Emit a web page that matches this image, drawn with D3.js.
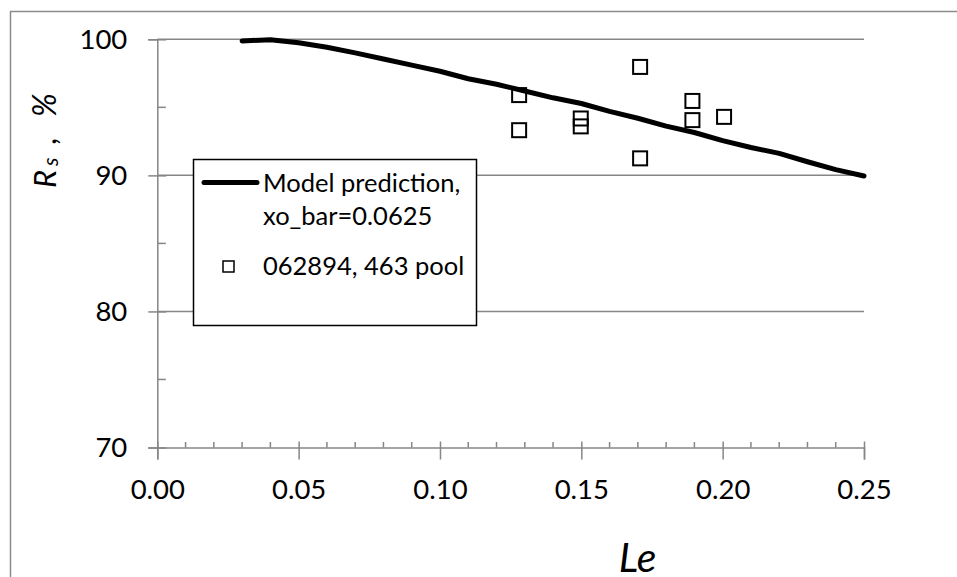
<!DOCTYPE html>
<html>
<head>
<meta charset="utf-8">
<script src="https://cdn.jsdelivr.net/npm/d3@7/dist/d3.min.js"></script>
<style>
  html, body { margin: 0; padding: 0; background: #fff; }
  svg { display: block; font-family: Lato, "Open Sans", sans-serif; }
</style>
</head>
<body>
<svg id="chart" width="957" height="577"></svg>
<script>
// ---- data ----
const modelLe = [0.03, 0.04, 0.05, 0.06, 0.07, 0.08, 0.09, 0.10, 0.11, 0.12, 0.13, 0.14, 0.15, 0.16, 0.17, 0.18, 0.19, 0.20, 0.21, 0.22, 0.23, 0.24, 0.25];
const modelRs = [99.88, 99.97, 99.75, 99.42, 99.0, 98.55, 98.1, 97.65, 97.1, 96.7, 96.2, 95.7, 95.28, 94.7, 94.2, 93.62, 93.15, 92.55, 92.05, 91.62, 91.0, 90.42, 89.95];
const obsLe = [0.128, 0.128, 0.1498, 0.1498, 0.1708, 0.1708, 0.1893, 0.1893, 0.2005];
const obsRs = [95.9, 93.32, 94.18, 93.6, 97.97, 91.25, 95.47, 94.06, 94.3];
const xTickValues = [0, 0.05, 0.10, 0.15, 0.20, 0.25];
const xMinorValues = [0.01,0.02,0.03,0.04,0.06,0.07,0.08,0.09,0.11,0.12,0.13,0.14,0.16,0.17,0.18,0.19,0.21,0.22,0.23,0.24];
const yTickValues = [70, 80, 90, 100];
const yMinorValues = [75, 85, 95];
const legendLabels = [["Model prediction,", "xo_bar=0.0625"], ["062894, 463 pool"]];

const svg = d3.select("#chart");
const x = d3.scaleLinear().domain([0, 0.25]).range([157.3, 864]);
const y = d3.scaleLinear().domain([70, 100]).range([447.5, 39.3]);
const axisColor = "#868686";

// outer chart border
svg.append("rect").attr("x", 10.5).attr("y", 11.5).attr("width", 1000).attr("height", 700)
  .attr("fill", "none").attr("stroke", "#8c8c8c").attr("stroke-width", 1.5);

// horizontal gridlines
svg.append("g").selectAll("line").data(yTickValues.filter(v => v > 70)).join("line")
  .attr("x1", x(0)).attr("x2", x(0.25)).attr("y1", d => y(d)).attr("y2", d => y(d))
  .attr("stroke", axisColor).attr("stroke-width", 1.5);

// y axis
const yAxis = svg.append("g").attr("transform", `translate(${x(0)},0)`)
  .call(d3.axisLeft(y).tickValues(yTickValues).tickSize(9).tickPadding(21).tickFormat(d3.format("d")));
yAxis.select(".domain").attr("stroke", axisColor).attr("stroke-width", 1.5);
yAxis.selectAll(".tick line").attr("stroke", axisColor).attr("stroke-width", 1.5).attr("x2", 9).attr("x1", -9);
yAxis.selectAll(".tick text").attr("font-size", 27.5).attr("fill", "#000").attr("font-family", "Lato");
svg.append("g").selectAll("line").data(yMinorValues).join("line")
  .attr("x1", x(0)).attr("x2", x(0) + 8.5).attr("y1", d => y(d)).attr("y2", d => y(d))
  .attr("stroke", axisColor).attr("stroke-width", 1.5);

// x axis
const xAxis = svg.append("g").attr("transform", `translate(0,${y(70)})`)
  .call(d3.axisBottom(x).tickValues(xTickValues).tickSize(12).tickPadding(20).tickFormat(d3.format(".2f")));
xAxis.select(".domain").attr("stroke", axisColor).attr("stroke-width", 1.5);
xAxis.selectAll(".tick line").attr("stroke", axisColor).attr("stroke-width", 1.5).attr("y1", -6).attr("y2", 12);
xAxis.selectAll(".tick text").attr("font-size", 27.5).attr("fill", "#000").attr("font-family", "Lato");
svg.append("g").selectAll("line").data(xMinorValues).join("line")
  .attr("x1", d => x(d)).attr("x2", d => x(d)).attr("y1", y(70)).attr("y2", y(70) - 5.5)
  .attr("stroke", axisColor).attr("stroke-width", 1.5);

// model line
svg.append("path")
  .datum(modelLe.map((d, i) => [d, modelRs[i]]))
  .attr("d", d3.line().x(d => x(d[0])).y(d => y(d[1])))
  .attr("fill", "none").attr("stroke", "#000").attr("stroke-width", 5)
  .attr("stroke-linecap", "round").attr("stroke-linejoin", "round");

// observed points
const sq = 14;
svg.append("g").selectAll("rect").data(obsLe.map((d, i) => [d, obsRs[i]])).join("rect")
  .attr("x", d => x(d[0]) - sq / 2).attr("y", d => y(d[1]) - sq / 2)
  .attr("width", sq).attr("height", sq)
  .attr("fill", "none").attr("stroke", "#000").attr("stroke-width", 2);

// legend
const lg = svg.append("g");
lg.append("rect").attr("x", 193.5).attr("y", 159.5).attr("width", 283).attr("height", 166)
  .attr("fill", "#fff").attr("stroke", "#000").attr("stroke-width", 1.5);
lg.append("line").attr("x1", 204).attr("x2", 257).attr("y1", 182.5).attr("y2", 182.5)
  .attr("stroke", "#000").attr("stroke-width", 5).attr("stroke-linecap", "round");
lg.append("rect").attr("x", 223).attr("y", 261).attr("width", 11).attr("height", 11)
  .attr("fill", "none").attr("stroke", "#000").attr("stroke-width", 1.5);
const legendText = [[legendLabels[0][0], 191.5], [legendLabels[0][1], 225], [legendLabels[1][0], 275]];
lg.selectAll("text").data(legendText).join("text")
  .attr("x", 263).attr("y", d => d[1]).attr("font-size", 25.5).attr("fill", "#000")
  .text(d => d[0]);

// axis titles
const yt = svg.append("text").attr("transform", "translate(56,188) rotate(-90)")
  .attr("font-size", 31).attr("font-style", "italic").attr("fill", "#000");
yt.append("tspan").attr("x", 0).text("R");
yt.append("tspan").attr("x", 22).attr("font-size", 21).attr("dy", 2).text("s");
yt.append("tspan").attr("x", 44).attr("dy", -2).text(",");
yt.append("tspan").attr("x", 71).attr("font-size", 32).text("%");

svg.append("text").attr("x", 637.5).attr("y", 572).attr("text-anchor", "middle")
  .attr("font-size", 41).attr("font-style", "italic").attr("fill", "#000").text("Le");
</script>
</body>
</html>
